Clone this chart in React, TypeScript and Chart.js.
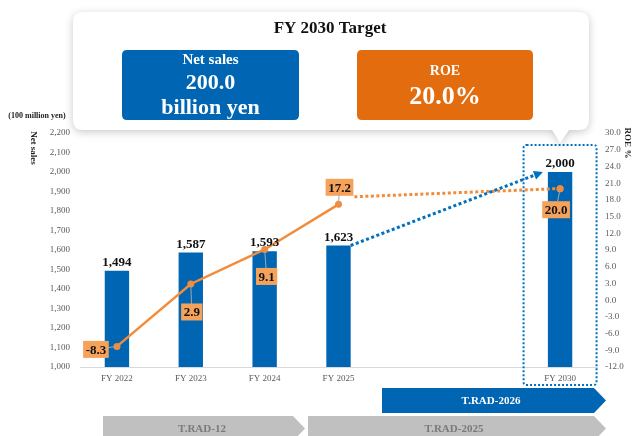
import React, { useEffect, useRef } from "react";
import { Chart, registerables } from "chart.js";

Chart.register(...registerables);

// ---- data ----
const categories = ["FY 2022", "FY 2023", "FY 2024", "FY 2025", "", "", "FY 2030"];
const netSales = [1494, 1587, 1593, 1623, null, null, 2000];
const roe = [-8.3, 2.9, 9.1, 17.2, null, null, 20.0];
const salesAxis = { min: 1000, max: 2200, step: 100 };
const roeAxis = { min: -12, max: 30, step: 3 };
const targetTitle = "FY 2030 Target";
const targetSalesText = ["Net sales", "200.0", "billion yen"];
const targetRoeText = ["ROE", "20.0%"];
const programNames = ["T.RAD-2026", "T.RAD-12", "T.RAD-2025"];

// ---- styling ----
const SERIF = "'Liberation Serif', 'Times New Roman', serif";
const BLUE = "#0066B3";
const ORANGE_LINE = "#F28C3A";
const LABEL_FILL = "#F5A25A";
const BOX_ORANGE = "#E36C0E";
const TICK_COLOR = "#595959";
// label offsets (px) for the ROE value boxes relative to their points
const roeLabelOffsets: ([number, number] | null)[] = [[-21, 3], [1, 28], [2, 27], [1, -17], null, null, [-4, 21]];

function roundRect(ctx: CanvasRenderingContext2D, x: number, y: number, w: number, h: number, r: number) {
  ctx.beginPath();
  ctx.moveTo(x + r, y);
  ctx.lineTo(x + w - r, y);
  ctx.quadraticCurveTo(x + w, y, x + w, y + r);
  ctx.lineTo(x + w, y + h - r);
  ctx.quadraticCurveTo(x + w, y + h, x + w - r, y + h);
  ctx.lineTo(x + r, y + h);
  ctx.quadraticCurveTo(x, y + h, x, y + h - r);
  ctx.lineTo(x, y + r);
  ctx.quadraticCurveTo(x, y, x + r, y);
  ctx.closePath();
}

function arrowShape(ctx: CanvasRenderingContext2D, x0: number, x1: number, tip: number, y0: number, y1: number) {
  ctx.beginPath();
  ctx.moveTo(x0, y0);
  ctx.lineTo(x1, y0);
  ctx.lineTo(tip, (y0 + y1) / 2);
  ctx.lineTo(x1, y1);
  ctx.lineTo(x0, y1);
  ctx.closePath();
}

const decorPlugin = {
  id: "decor",
  afterDatasetsDraw(chart: any) {
    const ctx: CanvasRenderingContext2D = chart.ctx;
    const area = chart.chartArea;
    const barMeta = chart.getDatasetMeta(1);
    const lineMeta = chart.getDatasetMeta(0);
    const b3 = barMeta.data[3];
    const b6 = barMeta.data[6];

    ctx.save();
    // dotted frame around FY2030
    ctx.strokeStyle = "#0070C0";
    ctx.lineWidth = 2;
    ctx.setLineDash([2, 2]);
    roundRect(ctx, b6.x - 36.5, area.top + 12, 73, area.bottom + 18 - (area.top + 12), 3);
    ctx.stroke();

    // ROE label geometry
    ctx.font = `bold 13px ${SERIF}`;
    const boxes: any[] = [];
    roe.forEach((v, i) => {
      const off = roeLabelOffsets[i];
      if (v === null || !off) return;
      const p = lineMeta.data[i];
      const txt = v.toFixed(1);
      const w = ctx.measureText(txt).width + 5;
      const h = 17;
      boxes[i] = { p, cx: p.x + off[0], cy: p.y + off[1], w, h, txt };
    });

    // orange dotted line from 17.2 label to FY2030 point
    const bx = boxes[3];
    const p6 = lineMeta.data[6];
    ctx.strokeStyle = ORANGE_LINE;
    ctx.lineWidth = 3;
    ctx.setLineDash([3, 2.5]);
    ctx.beginPath();
    ctx.moveTo(bx.cx + bx.w / 2 + 1, bx.cy + bx.h / 2 + 1);
    ctx.lineTo(p6.x - 4, p6.y);
    ctx.stroke();

    // blue dotted arrow from FY2025 bar to FY2030 bar
    const sx = b3.x + b3.width / 2, sy = b3.y;
    const ex = b6.x - b6.width / 2 - 5, ey = b6.y;
    const ang = Math.atan2(ey - sy, ex - sx);
    const headLen = 9;
    ctx.strokeStyle = "#0070C0";
    ctx.beginPath();
    ctx.moveTo(sx, sy);
    ctx.lineTo(ex - headLen * Math.cos(ang), ey - headLen * Math.sin(ang));
    ctx.stroke();
    ctx.setLineDash([]);
    ctx.fillStyle = "#0070C0";
    ctx.beginPath();
    ctx.moveTo(ex, ey);
    ctx.lineTo(ex - headLen * Math.cos(ang) + 4.5 * Math.sin(ang), ey - headLen * Math.sin(ang) - 4.5 * Math.cos(ang));
    ctx.lineTo(ex - headLen * Math.cos(ang) - 4.5 * Math.sin(ang), ey - headLen * Math.sin(ang) + 4.5 * Math.cos(ang));
    ctx.closePath();
    ctx.fill();

    // redraw FY2030 ROE marker on top
    ctx.fillStyle = ORANGE_LINE;
    ctx.beginPath();
    ctx.arc(p6.x, p6.y, 3.5, 0, Math.PI * 2);
    ctx.fill();

    // bar value labels
    ctx.fillStyle = "#111";
    ctx.font = `bold 13px ${SERIF}`;
    ctx.textAlign = "center";
    ctx.textBaseline = "alphabetic";
    netSales.forEach((v, i) => {
      if (v === null) return;
      const b = barMeta.data[i];
      ctx.fillText(v.toLocaleString("en-US"), b.x, b.y - 5);
    });

    // ROE labels with leader lines
    boxes.forEach((bxx) => {
      if (!bxx) return;
      ctx.strokeStyle = "#A6A6A6";
      ctx.lineWidth = 1;
      ctx.beginPath();
      ctx.moveTo(bxx.p.x, bxx.p.y);
      ctx.lineTo(bxx.cx, bxx.cy);
      ctx.stroke();
      ctx.fillStyle = LABEL_FILL;
      ctx.fillRect(bxx.cx - bxx.w / 2, bxx.cy - bxx.h / 2, bxx.w, bxx.h);
      ctx.fillStyle = "#111";
      ctx.textBaseline = "middle";
      ctx.fillText(bxx.txt, bxx.cx, bxx.cy + 1);
    });
    ctx.restore();
  },
  afterDraw(chart: any) {
    const ctx: CanvasRenderingContext2D = chart.ctx;
    const xs = chart.scales.x;
    ctx.save();

    // callout box with shadow and tail
    ctx.shadowColor = "rgba(0,0,0,0.22)";
    ctx.shadowBlur = 8;
    ctx.shadowOffsetY = 2;
    ctx.fillStyle = "#fff";
    const L = 73, T = 12, R = 589, B = 130, r = 10;
    const tailX = xs.getPixelForValue(6);
    ctx.beginPath();
    ctx.moveTo(L + r, T);
    ctx.lineTo(R - r, T);
    ctx.quadraticCurveTo(R, T, R, T + r);
    ctx.lineTo(R, B - r);
    ctx.quadraticCurveTo(R, B, R - r, B);
    ctx.lineTo(tailX + 9, B);
    ctx.lineTo(tailX, B + 13);
    ctx.lineTo(tailX - 8, B);
    ctx.lineTo(L + r, B);
    ctx.quadraticCurveTo(L, B, L, B - r);
    ctx.lineTo(L, T + r);
    ctx.quadraticCurveTo(L, T, L + r, T);
    ctx.closePath();
    ctx.fill();
    ctx.shadowColor = "transparent";
    ctx.shadowBlur = 0;
    ctx.shadowOffsetY = 0;

    ctx.textAlign = "center";
    ctx.textBaseline = "middle";
    ctx.fillStyle = "#111";
    ctx.font = `bold 17px ${SERIF}`;
    ctx.fillText(targetTitle, 330, 29);

    ctx.fillStyle = BLUE;
    roundRect(ctx, 122, 50, 177, 70, 5);
    ctx.fill();
    ctx.fillStyle = "#fff";
    ctx.font = `bold 15px ${SERIF}`;
    ctx.fillText(targetSalesText[0], 210.5, 60);
    ctx.font = `bold 22px ${SERIF}`;
    ctx.fillText(targetSalesText[1], 210.5, 83);
    ctx.fillText(targetSalesText[2], 210.5, 108);

    ctx.fillStyle = BOX_ORANGE;
    roundRect(ctx, 357, 50, 176, 70, 5);
    ctx.fill();
    ctx.fillStyle = "#fff";
    ctx.font = `bold 14px ${SERIF}`;
    ctx.fillText(targetRoeText[0], 445, 71);
    ctx.font = `bold 26px ${SERIF}`;
    ctx.fillText(targetRoeText[1], 445, 97);

    // axis titles
    ctx.fillStyle = "#222";
    ctx.font = `bold 8px ${SERIF}`;
    ctx.fillText("(100 million yen)", 37, 116);
    ctx.font = `bold 9px ${SERIF}`;
    ctx.save();
    ctx.translate(33, 148);
    ctx.rotate(Math.PI / 2);
    ctx.fillText("Net sales", 0, 0);
    ctx.restore();
    ctx.save();
    ctx.translate(627, 143);
    ctx.rotate(Math.PI / 2);
    ctx.fillText("ROE %", 0, 0);
    ctx.restore();

    // program timeline arrows
    ctx.font = `bold 11px ${SERIF}`;
    ctx.fillStyle = BLUE;
    arrowShape(ctx, 382, 594, 606, 388, 413);
    ctx.fill();
    ctx.fillStyle = "#fff";
    ctx.fillText(programNames[0], 491, 401);

    ctx.fillStyle = "#C0C0C0";
    arrowShape(ctx, 103, 293, 305, 416, 441);
    ctx.fill();
    arrowShape(ctx, 308, 594, 606, 416, 441);
    ctx.fill();
    ctx.fillStyle = "#7A7A7A";
    ctx.fillText(programNames[1], 202, 429);
    ctx.fillText(programNames[2], 454, 429);

    ctx.restore();
  },
};

export default function App() {
  const ref = useRef<HTMLCanvasElement>(null);
  useEffect(() => {
    const canvas = ref.current!;
    const tickFont = { family: SERIF, size: 9 };
    const chart = new Chart(canvas, {
      type: "bar",
      data: {
        labels: categories,
        datasets: [
          {
            type: "line",
            label: "ROE",
            data: roe,
            yAxisID: "yR",
            borderColor: ORANGE_LINE,
            backgroundColor: ORANGE_LINE,
            borderWidth: 2.5,
            pointRadius: 3.5,
            pointBorderWidth: 0,
            spanGaps: false,
            order: 0,
          } as any,
          {
            type: "bar",
            label: "Net sales",
            data: netSales,
            yAxisID: "yL",
            backgroundColor: BLUE,
            barPercentage: 0.33,
            categoryPercentage: 1,
            order: 1,
          } as any,
        ],
      },
      options: {
        responsive: false,
        animation: false,
        layout: { padding: { left: 10, right: 0, top: 133, bottom: 49 } },
        plugins: { legend: { display: false }, tooltip: { enabled: false } },
        scales: {
          x: {
            grid: { display: false, drawTicks: false },
            border: { display: true, color: "#D9D9D9", width: 1 },
            ticks: { font: tickFont, color: TICK_COLOR, padding: 6, autoSkip: false, maxRotation: 0 },
            afterFit: (s: any) => { s.height = 20; },
          },
          yL: {
            position: "left",
            min: salesAxis.min,
            max: salesAxis.max,
            grid: { display: false, drawTicks: false },
            border: { display: false },
            ticks: {
              stepSize: salesAxis.step,
              padding: 10,
              font: tickFont,
              color: TICK_COLOR,
              callback: (v: any) => Number(v).toLocaleString("en-US"),
            },
            afterFit: (s: any) => { s.width = 70; },
          },
          yR: {
            position: "right",
            min: roeAxis.min,
            max: roeAxis.max,
            grid: { display: false, drawTicks: false },
            border: { display: false },
            ticks: {
              stepSize: roeAxis.step,
              padding: 8,
              font: tickFont,
              color: TICK_COLOR,
              callback: (v: any) => Number(v).toFixed(1),
            },
            afterFit: (s: any) => { s.width = 39; },
          },
        },
      } as any,
      plugins: [decorPlugin],
    });
    return () => chart.destroy();
  }, []);
  return (
    <div style={{ position: "fixed", left: 0, top: 0, width: 636, height: 436, background: "#fff" }}>
      <canvas ref={ref} width={636} height={436} style={{ display: "block", width: 636, height: 436 }} />
    </div>
  );
}
